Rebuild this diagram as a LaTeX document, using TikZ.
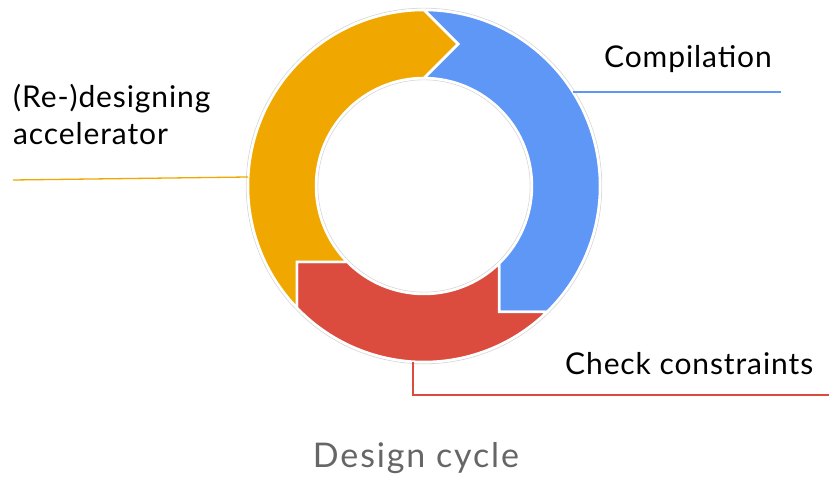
\documentclass[tikz,border=0pt]{standalone}
\usepackage{fontspec}
\setmainfont{Lato}
\newfontfamily\labelfont[LetterSpace=3]{Lato}
\newfontfamily\captionfont[LetterSpace=5.5]{Lato}
\definecolor{segblue}{HTML}{5E97F6}
\definecolor{segred}{HTML}{DB4C3F}
\definecolor{segorange}{HTML}{F0A800}
\definecolor{ringgray}{HTML}{DADADA}
\definecolor{captiongray}{HTML}{666666}
\begin{document}
\begin{tikzpicture}[x=1pt,y=1pt,
  seg/.style={draw=white, line width=2.5pt, line join=miter},
  rim/.style={draw=ringgray, line width=0.8pt},
  leader/.style={line width=1.3pt},
  lbl/.style={inner sep=0pt, anchor=base west, font=\labelfont\fontsize{30}{37}\selectfont, text=black},
  caption/.style={inner sep=0pt, anchor=base, font=\captionfont\fontsize{34}{40}\selectfont, text=captiongray},
]
\useasboundingbox (-424,-292) rectangle (405,186);

% faint rims around the ring
\draw[rim] (0,0) circle[radius=177.8];
\draw[rim] (0,0) circle[radius=106.2];

% Compilation segment (blue)
\filldraw[seg, fill=segblue]
  (90:176) arc[start angle=90, end angle=-45.7, radius=176]
  -- (75,-126) -- (75,-77.7)
  arc[start angle=-46, end angle=90, radius=108]
  -- (34,142) -- cycle;

% Check constraints segment (red)
\filldraw[seg, fill=segred]
  (-45.7:176) arc[start angle=-45.7, end angle=-136.2, radius=176]
  -- (-127,-76) -- (-135.3:108)
  arc[start angle=-135.3, end angle=-46, radius=108]
  -- (75,-126) -- cycle;

% (Re-)designing segment (orange), its head pointing into the blue one
\filldraw[seg, fill=segorange]
  (223.8:176) arc[start angle=223.8, end angle=90, radius=176]
  -- (34,142) -- (90:108)
  arc[start angle=90, end angle=224.7, radius=108]
  -- (-127,-76) -- cycle;

% labels
\node[lbl] (compile) at (180,118) {Compilation};
\node[lbl] (redesignA) at (-411,78) {(Re-)designing};
\node[lbl] (redesignB) at (-411,41) {accelerator};
\node[lbl] (check) at (141,-189) {Check constraints};
\node[caption] (cycle) at (-8,-281) {Design cycle};

% leader lines
\coordinate (bluefoot) at (148.8,94);
\coordinate (blueend) at (357,94);
\coordinate (orangefoot) at (-175.8,9);
\coordinate (orangeend) at (-411,6);
\coordinate (redfoot) at (-11,-175.7);
\coordinate (redbend) at (-11,-209);
\coordinate (redend) at (405,-209);
\draw[leader, segblue] (bluefoot) -- (blueend);
\draw[leader, segorange] (orangefoot) -- (orangeend);
\draw[leader, segred] (redfoot) -- (redbend) -- (redend);
\end{tikzpicture}
\end{document}
